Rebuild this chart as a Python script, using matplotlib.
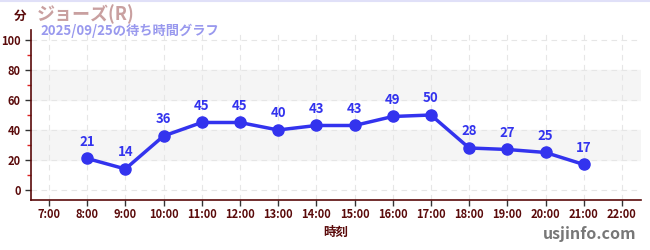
import matplotlib
matplotlib.use("Agg")
import matplotlib.pyplot as plt
from matplotlib.ticker import MultipleLocator

plt.rcParams['font.family'] = ['Noto Sans CJK JP', 'DejaVu Sans']

hours = [8, 9, 10, 11, 12, 13, 14, 15, 16, 17, 18, 19, 20, 21]
waits = [21, 14, 36, 45, 45, 40, 43, 43, 49, 50, 28, 27, 25, 17]
tick_hours = list(range(7, 23))
tick_labels = [f"{h}:00" for h in tick_hours]
y_ticks = [0, 20, 40, 60, 80, 100]

title = "ジョーズ(R)"
subtitle = "2025/09/25の待ち時間グラフ"

dark = "#5a0a0a"
blue = "#3333ee"

fig = plt.figure(figsize=(6.5, 2.5), dpi=100)
ax = fig.add_axes([31/650, 1-200/250, 610/650, 170/250])
ax.set_xlim(6.53, 22.5)
ax.set_ylim(-6.7, 106.7)

for lo, hi in [(20, 40), (60, 80)]:
    ax.axhspan(lo, hi, color="#f5f5f5", zorder=0)

ax.set_yticks(y_ticks)
ax.yaxis.set_minor_locator(MultipleLocator(10))
ax.set_xticks(tick_hours)
ax.set_xticklabels(tick_labels)
ax.grid(True, which="major", color="#e6e6e6", linestyle=(0, (5, 4)), linewidth=0.8, zorder=1)

for s in ["top", "right"]:
    ax.spines[s].set_visible(False)
for s in ["left", "bottom"]:
    ax.spines[s].set_color(dark)
    ax.spines[s].set_linewidth(1.2)

ax.tick_params(axis="both", which="major", colors="#333333", labelcolor=dark, labelsize=8, length=4, width=1)
ax.tick_params(axis="y", which="minor", colors="#dd2222", length=3, width=1)
ax.tick_params(axis="x", which="major", pad=2)
for lbl in ax.get_xticklabels() + ax.get_yticklabels():
    lbl.set_fontweight("bold")

ax.plot(hours, waits, color=blue, linewidth=2.5, marker="o", markersize=8, zorder=3)
for h, w in zip(hours, waits):
    ax.annotate(str(w), (h, w), xytext=(0, 7), textcoords="offset points",
                ha="center", va="bottom", color=blue, fontsize=9.5, fontweight="bold")

ax.set_xlabel("時刻", color=dark, fontsize=9, fontweight="bold", labelpad=3)

fig.text(14/650, 1-16/250, "分", color=dark, fontsize=9, fontweight="bold", va="center", ha="left")
fig.text(37/650, 1-14/250, title, color="#c9a0a0", fontsize=13, fontweight="bold", va="center", ha="left")
fig.text(40/650, 1-31/250, subtitle, color="#9999ee", fontsize=9.5, fontweight="bold", va="center", ha="left")
fig.text(636/650, 1-234/250, "usjinfo.com", color="#777777", fontsize=11.5, fontweight="bold", va="center", ha="right")

fig.add_artist(plt.Line2D([0, 1], [0.998, 0.998], transform=fig.transFigure, color="#e0e0f8", linewidth=1.5))

fig.savefig("out.png", dpi=100, facecolor="white")
